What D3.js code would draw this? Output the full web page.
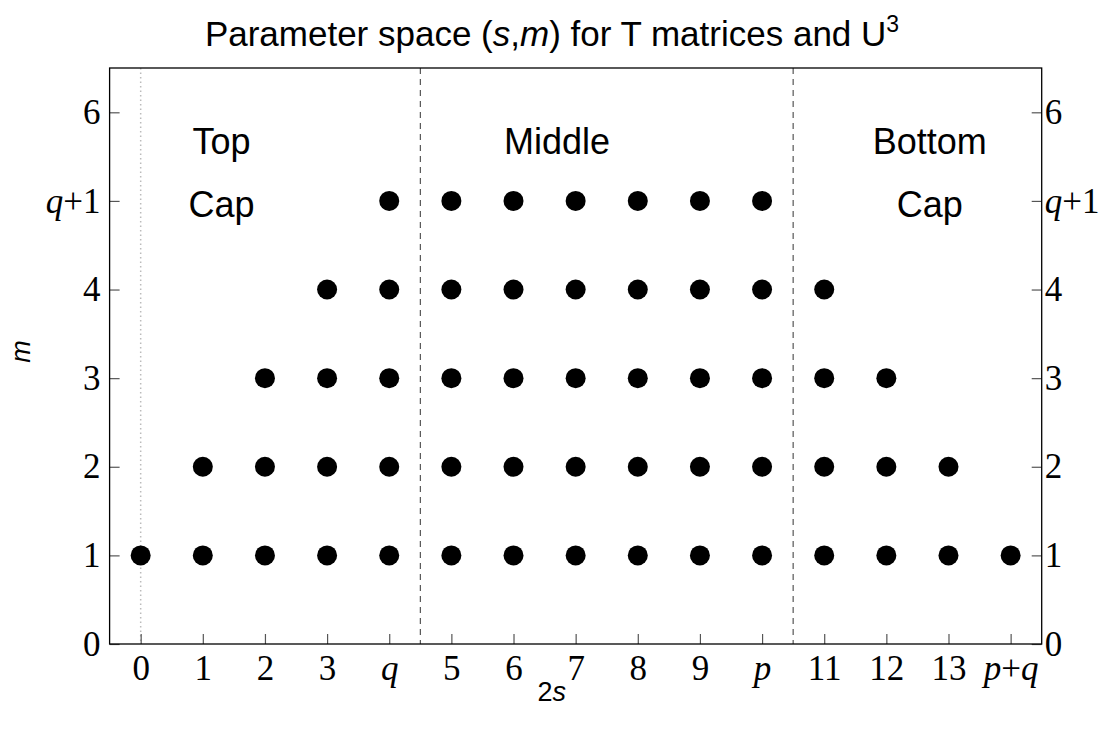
<!DOCTYPE html>
<html>
<head>
<meta charset="utf-8">
<script src="https://cdn.jsdelivr.net/npm/d3@7"></script>
<style>
body { margin: 0; background: #fff; }
</style>
</head>
<body>
<svg id="chart" width="1104" height="738"></svg>
<script>
// data: for each m, which 2s values have a point
var xTicks = [0, 1, 2, 3, 4, 5, 6, 7, 8, 9, 10, 11, 12, 13, 14];
var xTickLabels = ["0", "1", "2", "3", "q", "5", "6", "7", "8", "9", "p", "11", "12", "13", "p+q"];
var yTicks = [0, 1, 2, 3, 4, 5, 6];
var yTickLabels = ["0", "1", "2", "3", "4", "q+1", "6"];
var rowM = [1, 2, 3, 4, 5];
var rowFrom = [0, 1, 2, 3, 4];
var rowTo = [14, 13, 12, 11, 10];
var dividers = [4.5, 10.5];
var regionNames = [["Top", "Cap"], ["Middle"], ["Bottom", "Cap"]];
var regionX = [1.3, 6.7, 12.7];

var points = [];
rowM.forEach(function(m, i) {
	for (var s = rowFrom[i]; s <= rowTo[i]; s++) points.push({s: s, m: m});
});

var pLeft = 109.6, pRight = 1041.7, pTop = 68, pBottom = 644;
var svg = d3.select("#chart");
var x = d3.scaleLinear().domain([-0.5, 14.5]).range([pLeft, pRight]);
var y = d3.scaleLinear().domain([0, 6.5]).range([pBottom, pTop]);

// labels with italic letters (p, q)
function fancyLabel(sel, txt) {
	txt.split(/([pq])/).forEach(function(part) {
		if (part === "") return;
		sel.append("tspan").style("font-style", (part == "p" || part == "q") ? "italic" : "normal").text(part);
	});
}

// reference lines
svg.append("line").attr("x1", x(0)).attr("x2", x(0)).attr("y1", pTop).attr("y2", pBottom)
	.attr("stroke", "#bbb").attr("stroke-width", 1.5).attr("stroke-dasharray", "1.5,3");
svg.selectAll(".div").data(dividers).enter().append("line")
	.attr("x1", function(d) { return x(d); }).attr("x2", function(d) { return x(d); })
	.attr("y1", pTop).attr("y2", pBottom)
	.attr("stroke", "#333").attr("stroke-width", 1).attr("stroke-dasharray", "6,5");

// axes
var serif = "'Liberation Serif', 'DejaVu Serif', serif";
var xAxis = d3.axisBottom(x).tickValues(xTicks).tickSizeInner(-10).tickSizeOuter(0).tickPadding(14)
	.tickFormat(function() { return ""; });
var gx = svg.append("g").attr("transform", "translate(0," + pBottom + ")").call(xAxis);
gx.selectAll(".tick text").each(function(d, i) { fancyLabel(d3.select(this), xTickLabels[i]); });

var yAxisL = d3.axisLeft(y).tickValues(yTicks).tickSizeInner(-10).tickSizeOuter(0).tickPadding(9).tickFormat(function() { return ""; });
var gyl = svg.append("g").attr("transform", "translate(" + pLeft + ",0)").call(yAxisL);
gyl.selectAll(".tick text").each(function(d, i) { fancyLabel(d3.select(this), yTickLabels[i]); });

var yAxisR = d3.axisRight(y).tickValues(yTicks).tickSizeInner(-10).tickSizeOuter(0).tickPadding(3).tickFormat(function() { return ""; });
var gyr = svg.append("g").attr("transform", "translate(" + pRight + ",0)").call(yAxisR);
gyr.selectAll(".tick text").each(function(d, i) { fancyLabel(d3.select(this), yTickLabels[i]); });

svg.selectAll(".domain").remove();
svg.selectAll(".tick line").attr("stroke", "#555").attr("stroke-width", 1.2);
svg.selectAll(".tick text").attr("font-family", serif).attr("font-size", 35).attr("fill", "#000");
gx.selectAll(".tick text").attr("y", 36).attr("dy", 0);

// frame
svg.append("rect").attr("x", pLeft).attr("y", pTop).attr("width", pRight - pLeft).attr("height", pBottom - pTop)
	.attr("fill", "none").attr("stroke", "#000").attr("stroke-width", 1.3);

// points
svg.selectAll(".pt").data(points).enter().append("circle")
	.attr("cx", function(d) { return x(d.s); })
	.attr("cy", function(d) { return y(d.m); })
	.attr("r", 10).attr("fill", "#000");

// region names
var sans = "'Liberation Sans', Arial, sans-serif";
regionNames.forEach(function(lines, i) {
	lines.forEach(function(t, j) {
		svg.append("text").attr("x", x(regionX[i])).attr("y", 154 + j * 63)
			.attr("text-anchor", "middle").attr("font-family", sans).attr("font-size", 36).text(t);
	});
});

// title
var title = svg.append("text").attr("x", 552).attr("y", 46).attr("text-anchor", "middle")
	.attr("font-family", sans).attr("font-size", 35);
title.append("tspan").text("Parameter space (");
title.append("tspan").style("font-style", "italic").text("s");
title.append("tspan").text(",");
title.append("tspan").style("font-style", "italic").text("m");
title.append("tspan").text(") for T matrices and U");
title.append("tspan").attr("font-size", 23).attr("dy", -14).text("3");

// axis titles
var xt = svg.append("text").attr("x", x(7) - 24).attr("y", 701).attr("text-anchor", "middle")
	.attr("font-family", sans).attr("font-size", 27);
xt.append("tspan").text("2");
xt.append("tspan").style("font-style", "italic").text("s");
svg.append("text").attr("transform", "translate(30," + y(3.3) + ") rotate(-90)").attr("text-anchor", "middle")
	.attr("font-family", sans).attr("font-size", 27).style("font-style", "italic").text("m");
</script>
</body>
</html>
